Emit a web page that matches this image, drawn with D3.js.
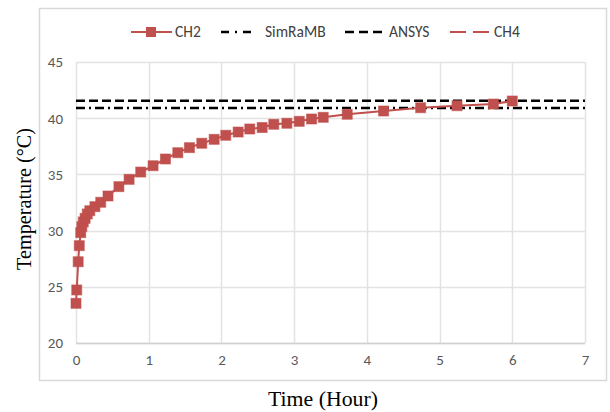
<!DOCTYPE html>
<html>
<head>
<meta charset="utf-8">
<script src="https://cdn.jsdelivr.net/npm/d3@7"></script>
<style>
  body { margin: 0; background: #fff; }
</style>
</head>
<body>
<script>
var ch2Time = [0, 0.01, 0.03, 0.045, 0.065, 0.08, 0.1, 0.125, 0.155, 0.19, 0.26, 0.34, 0.44, 0.59,
  0.73, 0.89, 1.06, 1.23, 1.4, 1.56, 1.73, 1.9, 2.06, 2.23, 2.39, 2.56, 2.72, 2.9, 3.07, 3.24,
  3.4, 3.73, 4.23, 4.74, 5.24, 5.74, 6.0];
var ch2Temp = [23.53, 24.72, 27.23, 28.66, 29.82, 30.35, 30.77, 31.09, 31.48, 31.77, 32.13, 32.52,
  33.08, 33.91, 34.56, 35.21, 35.77, 36.37, 36.93, 37.38, 37.77, 38.12, 38.48, 38.77, 39.04,
  39.17, 39.46, 39.55, 39.72, 39.93, 40.08, 40.35, 40.64, 40.93, 41.11, 41.26, 41.53];
var ch4Time = [];
var ch4Temp = [];
var simramb = 40.9;
var ansys = 41.55;
var xTicks = [0, 1, 2, 3, 4, 5, 6, 7];
var yTicks = [20, 25, 30, 35, 40, 45];
var legendNames = ['CH2', 'SimRaMB', 'ANSYS', 'CH4'];

(function() {
  var w = 610;
  var h = 412;
  var red = '#c0504d';

  var svg = d3
    .select('body')
    .append('svg')
    .attr('width', w)
    .attr('height', h);

  // chart frame
  svg
    .append('rect')
    .attr('x', 39.5)
    .attr('y', 8.5)
    .attr('width', 567)
    .attr('height', 372)
    .attr('fill', '#fff')
    .attr('stroke', '#d9d9d9')
    .attr('stroke-width', 1.5);

  var xScale = d3.scaleLinear().domain([0, 7]).range([76, 585]);
  var yScale = d3.scaleLinear().domain([20, 45]).range([343, 62]);

  // gridlines
  svg
    .append('g')
    .selectAll('line')
    .data(yTicks)
    .enter()
    .append('line')
    .attr('x1', xScale(0))
    .attr('x2', xScale(7))
    .attr('y1', d => Math.round(yScale(d)) + 0.5)
    .attr('y2', d => Math.round(yScale(d)) + 0.5)
    .attr('stroke', '#e3e3e3')
    .attr('stroke-width', 1.5);

  svg
    .append('g')
    .selectAll('line')
    .data(xTicks)
    .enter()
    .append('line')
    .attr('x1', d => Math.round(xScale(d)) + 0.5)
    .attr('x2', d => Math.round(xScale(d)) + 0.5)
    .attr('y1', yScale(45))
    .attr('y2', yScale(20))
    .attr('stroke', '#e3e3e3')
    .attr('stroke-width', 1.5);

  // bottom axis line
  svg
    .append('line')
    .attr('x1', xScale(0))
    .attr('x2', xScale(7))
    .attr('y1', yScale(20) + 0.5)
    .attr('y2', yScale(20) + 0.5)
    .attr('stroke', '#d0d0d0')
    .attr('stroke-width', 1.5);

  // tick labels
  var xAxis = d3
    .axisBottom(xScale)
    .tickValues(xTicks)
    .tickFormat(d3.format('d'))
    .tickSize(0)
    .tickPadding(11);
  var gx = svg
    .append('g')
    .attr('transform', `translate(0, ${yScale(20)})`)
    .call(xAxis);
  var yAxis = d3
    .axisLeft(yScale)
    .tickValues(yTicks)
    .tickFormat(d3.format('d'))
    .tickSize(0)
    .tickPadding(13);
  var gy = svg
    .append('g')
    .attr('transform', `translate(${xScale(0)}, 0)`)
    .call(yAxis);
  [gx, gy].forEach(function(g) {
    g.select('.domain').remove();
    g.selectAll('text')
      .attr('fill', '#595959')
      .style('font-family', 'Carlito, "Open Sans", sans-serif')
      .style('font-size', '15px');
  });

  // reference lines
  svg
    .append('line')
    .attr('x1', xScale(0))
    .attr('x2', xScale(7))
    .attr('y1', yScale(ansys))
    .attr('y2', yScale(ansys))
    .attr('stroke', '#000')
    .attr('stroke-width', 2.5)
    .attr('stroke-dasharray', '9,4');

  svg
    .append('line')
    .attr('x1', xScale(0))
    .attr('x2', xScale(7))
    .attr('y1', yScale(simramb))
    .attr('y2', yScale(simramb))
    .attr('stroke', '#000')
    .attr('stroke-width', 2.5)
    .attr('stroke-dasharray', '9,4,2,4');

  // CH2 / CH4 series
  var ch2 = ch2Time.map((t, i) => [t, ch2Temp[i]]);
  var ch4 = ch4Time.map((t, i) => [t, ch4Temp[i]]);
  var line = d3
    .line()
    .x(d => xScale(d[0]))
    .y(d => yScale(d[1]));

  svg
    .append('path')
    .datum(ch4)
    .attr('d', line)
    .attr('fill', 'none')
    .attr('stroke', red)
    .attr('stroke-width', 2)
    .attr('stroke-dasharray', '12,5');

  svg
    .append('path')
    .datum(ch2)
    .attr('d', line)
    .attr('fill', 'none')
    .attr('stroke', red)
    .attr('stroke-width', 2);

  svg
    .append('g')
    .selectAll('rect')
    .data(ch2)
    .enter()
    .append('rect')
    .attr('x', d => xScale(d[0]) - 5)
    .attr('y', d => yScale(d[1]) - 5)
    .attr('width', 10)
    .attr('height', 10)
    .attr('fill', red)
    .attr('stroke', red)
    .attr('stroke-opacity', 0.6)
    .attr('stroke-width', 1);

  // legend
  var legendY = 32;
  var lineStart = [131, 221, 345, 450];
  var lineEnd = [172, 254, 386, 490];
  var textX = [175, 265, 389, 494];
  var leg = svg.append('g');
  legendNames.forEach(function(name, i) {
    var l = leg
      .append('line')
      .attr('x1', lineStart[i])
      .attr('x2', lineEnd[i])
      .attr('y1', legendY)
      .attr('y2', legendY)
      .attr('stroke', i === 0 || i === 3 ? red : '#000')
      .attr('stroke-width', i === 0 || i === 3 ? 2 : 2.5);
    if (i === 1) l.attr('stroke-dasharray', '8,6,2,6');
    if (i === 2) l.attr('stroke-dasharray', '9,5');
    if (i === 3) l.attr('stroke-dasharray', '16,7');
    if (i === 0) {
      leg
        .append('rect')
        .attr('x', 146)
        .attr('y', legendY - 5)
        .attr('width', 10)
        .attr('height', 10)
        .attr('fill', red);
    }
    leg
      .append('text')
      .attr('x', textX[i])
      .attr('y', legendY)
      .attr('dy', '0.35em')
      .attr('fill', '#404040')
      .style('font-family', 'Carlito, "Open Sans", sans-serif')
      .style('font-size', '15.5px')
      .text(name);
  });

  // axis titles
  svg
    .append('text')
    .attr('x', 323)
    .attr('y', 406)
    .attr('text-anchor', 'middle')
    .attr('textLength', 110)
    .attr('lengthAdjust', 'spacingAndGlyphs')
    .style('font-family', '"Liberation Serif", "Times New Roman", serif')
    .style('font-size', '21px')
    .attr('fill', '#000')
    .text('Time (Hour)');

  svg
    .append('text')
    .attr('transform', 'translate(31, 199) rotate(-90)')
    .attr('text-anchor', 'middle')
    .attr('textLength', 142)
    .attr('lengthAdjust', 'spacingAndGlyphs')
    .style('font-family', '"Liberation Serif", "Times New Roman", serif')
    .style('font-size', '21px')
    .attr('fill', '#000')
    .text('Temperature (°C)');
})();
</script>
</body>
</html>
